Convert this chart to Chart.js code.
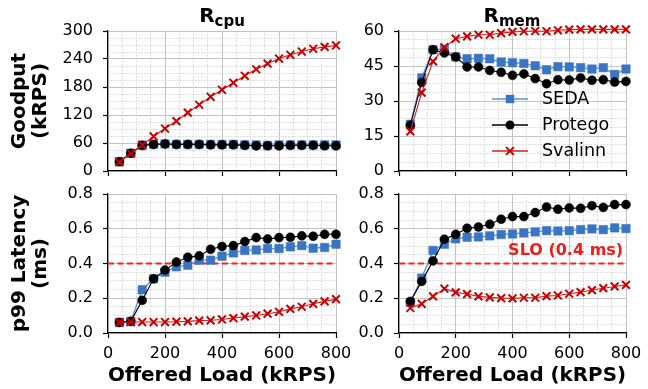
<!DOCTYPE html>
<html>
<head>
<meta charset="utf-8">
<script src="https://cdn.jsdelivr.net/npm/chart.js@4.4.1/dist/chart.umd.min.js"></script>
<style>
  html, body { margin: 0; padding: 0; background: #fff; }
  #wrap { position: relative; width: 648px; height: 389px; overflow: hidden; font-family: 'DejaVu Sans', sans-serif; }
  #wrap canvas { position: absolute; left: 0; top: 0; }
  .ptitle { position: absolute; width: 200px; text-align: center; font-weight: bold; font-size: 20px; line-height: 20px; color: #000; }
  .ptitle span { font-size: 15px; position: relative; top: 4px; }
</style>
</head>
<body>
<div id="wrap">
  <canvas id="cpuGood" width="648" height="389"></canvas>
  <canvas id="memGood" width="648" height="389"></canvas>
  <canvas id="cpuLat" width="648" height="389"></canvas>
  <canvas id="memLat" width="648" height="389"></canvas>
  <div class="ptitle" style="left:122px;top:5px">R<span>cpu</span></div>
  <div class="ptitle" style="left:412px;top:5px">R<span>mem</span></div>
</div>
<script>
// offered load (kRPS)
var loads = [40, 80, 120, 160, 200, 240, 280, 320, 360, 400, 440, 480, 520, 560, 600, 640, 680, 720, 760, 800];

// goodput (kRPS), R_cpu
var sedaCpuGood    = [20, 38, 55, 57, 58, 57, 57, 57, 57, 57, 57, 56, 56, 55, 56, 56, 56, 56, 56, 56];
var protegoCpuGood = [20, 38, 55, 57, 58, 57, 57, 57, 56, 56, 56, 55, 54, 54, 54, 55, 55, 55, 54, 54];
var svalinnCpuGood = [19, 38, 56, 74, 91, 107, 125, 142, 159, 174, 189, 204, 218, 230, 241, 249, 256, 262, 266, 269];

// goodput (kRPS), R_mem
var sedaMemGood    = [20, 39.9, 52, 52.1, 48.9, 48.1, 48.3, 48.1, 46.7, 46.4, 46.1, 45.1, 43.4, 44.7, 44.6, 44.3, 43.7, 44.3, 41.4, 43.7];
var protegoMemGood = [19.6, 37.9, 52, 50.6, 48.9, 44.6, 44.6, 43.1, 42.3, 41, 41.6, 39.6, 37.4, 39.1, 39, 39.9, 38.9, 39.1, 38.1, 38.4];
var svalinnMemGood = [17, 33.6, 47, 53.1, 56.7, 57.7, 58.4, 58.4, 59.1, 59.6, 59.9, 60, 59.9, 60.3, 60.6, 60.7, 60.7, 60.7, 60.7, 60.7];

// p99 latency (ms), R_cpu
var sedaCpuLat    = [0.061, 0.067, 0.249, 0.312, 0.350, 0.381, 0.390, 0.419, 0.419, 0.442, 0.461, 0.475, 0.478, 0.486, 0.486, 0.496, 0.503, 0.488, 0.492, 0.511];
var protegoCpuLat = [0.061, 0.067, 0.188, 0.312, 0.362, 0.408, 0.436, 0.444, 0.482, 0.498, 0.503, 0.526, 0.549, 0.541, 0.549, 0.551, 0.559, 0.557, 0.568, 0.568];
var svalinnCpuLat = [0.061, 0.063, 0.063, 0.063, 0.063, 0.065, 0.067, 0.071, 0.073, 0.078, 0.086, 0.094, 0.101, 0.111, 0.122, 0.139, 0.151, 0.168, 0.182, 0.195];

// p99 latency (ms), R_mem
var sedaMemLat    = [0.176, 0.316, 0.475, 0.511, 0.542, 0.551, 0.553, 0.559, 0.567, 0.570, 0.576, 0.582, 0.589, 0.587, 0.589, 0.595, 0.599, 0.595, 0.605, 0.601];
var protegoMemLat = [0.182, 0.297, 0.415, 0.540, 0.568, 0.603, 0.610, 0.626, 0.655, 0.670, 0.670, 0.693, 0.725, 0.712, 0.720, 0.718, 0.733, 0.723, 0.739, 0.739];
var svalinnMemLat = [0.144, 0.168, 0.211, 0.255, 0.234, 0.224, 0.211, 0.205, 0.201, 0.199, 0.203, 0.203, 0.212, 0.216, 0.226, 0.235, 0.247, 0.258, 0.268, 0.277];

var sloMs = 0.4;
var sloText = 'SLO (0.4 ms)';
var names = ['SEDA', 'Protego', 'Svalinn'];
var xTitle = 'Offered Load (kRPS)';

var FONT = 'DejaVu Sans';
var sedaLine = '#5b93d5', sedaMark = '#3a75c4';
var protLine = '#000000', protMark = '#000000';
var svalLine = '#d42020', svalMark = '#c80000';
var sloColor = '#ff2020';

function series(vals) {
  return loads.map(function (x, i) { return { x: x, y: vals[i] }; });
}
function isMajor(v, step) {
  var r = v / step;
  return Math.abs(r - Math.round(r)) < 1e-6;
}

function gridFor(step) {
  return {
    color: function (c) { return c.tick && isMajor(c.tick.value, step) ? '#c4c4c4' : '#d6d6d6'; },
    lineWidth: 1,
    tickLength: 5,
    tickWidth: 1.2,
    tickColor: function (c) { return c.tick && isMajor(c.tick.value, step) ? '#000' : 'rgba(0,0,0,0)'; }
  };
}
function borderFor(step) {
  return {
    color: '#000',
    width: 1.2,
    dash: function (c) { return c.tick && !isMajor(c.tick.value, step) ? [1.5, 1.5] : []; }
  };
}

var legendPlugin = {
  id: 'innerLegend',
  afterDatasetsDraw: function (chart) {
    var ctx = chart.ctx, a = chart.chartArea;
    var x0 = a.left + 93, x1 = a.left + 129, tx = a.left + 143, y0 = a.top + 68, gap = 26;
    ctx.save();
    ctx.font = '17.5px "' + FONT + '"';
    ctx.textBaseline = 'middle';
    ctx.textAlign = 'left';
    var lines = [sedaLine, protLine, svalLine];
    for (var i = 0; i < 3; i++) {
      var y = y0 + i * gap, mx = (x0 + x1) / 2;
      ctx.strokeStyle = lines[i];
      ctx.lineWidth = 1.3;
      ctx.beginPath(); ctx.moveTo(x0, y); ctx.lineTo(x1, y); ctx.stroke();
      if (i === 0) {
        ctx.fillStyle = sedaMark;
        ctx.fillRect(mx - 4.2, y - 4.2, 8.4, 8.4);
      } else if (i === 1) {
        ctx.fillStyle = protMark;
        ctx.beginPath(); ctx.arc(mx, y, 4.5, 0, Math.PI * 2); ctx.fill();
      } else {
        ctx.strokeStyle = svalMark;
        ctx.lineWidth = 2;
        ctx.beginPath();
        ctx.moveTo(mx - 3.9, y - 3.9); ctx.lineTo(mx + 3.9, y + 3.9);
        ctx.moveTo(mx - 3.9, y + 3.9); ctx.lineTo(mx + 3.9, y - 3.9);
        ctx.stroke();
      }
      ctx.fillStyle = '#000';
      ctx.fillText(names[i], tx, y);
    }
    ctx.restore();
  }
};

var sloPlugin = {
  id: 'sloLabel',
  afterDatasetsDraw: function (chart) {
    var ctx = chart.ctx;
    ctx.save();
    ctx.font = 'bold 16px "' + FONT + '"';
    ctx.fillStyle = '#ee1c1c';
    ctx.textAlign = 'right';
    ctx.textBaseline = 'middle';
    ctx.fillText(sloText, chart.scales.x.getPixelForValue(790), chart.scales.y.getPixelForValue(0.472));
    ctx.restore();
  }
};

function makeChart(id, o) {
  var datasets = [
    { label: names[0], data: series(o.sets[0]), borderColor: sedaLine, borderWidth: 1.3,
      pointStyle: 'rect', pointRadius: 6, pointBackgroundColor: sedaMark, pointBorderColor: sedaMark,
      pointBorderWidth: 0.5, order: 3, clip: false },
    { label: names[1], data: series(o.sets[1]), borderColor: protLine, borderWidth: 1.1,
      pointStyle: 'circle', pointRadius: 4.5, pointBackgroundColor: protMark, pointBorderColor: protMark,
      pointBorderWidth: 0.5, order: 2, clip: false },
    { label: names[2], data: series(o.sets[2]), borderColor: svalLine, borderWidth: 1.1,
      pointStyle: 'crossRot', pointRadius: 5.5, pointBorderColor: svalMark, pointBackgroundColor: svalMark,
      pointBorderWidth: 2, order: 1, clip: false }
  ];
  if (o.slo) {
    datasets.push({ label: 'SLO', data: [{ x: 0, y: sloMs }, { x: 800, y: sloMs }], borderColor: sloColor,
      borderWidth: 1.8, borderDash: [6, 3.5], pointRadius: 0, order: 4 });
  }
  var plugins = [];
  if (o.legend) plugins.push(legendPlugin);
  if (o.sloLabel) plugins.push(sloPlugin);

  return new Chart(document.getElementById(id), {
    type: 'line',
    data: { datasets: datasets },
    plugins: plugins,
    options: {
      responsive: false,
      animation: false,
      events: [],
      layout: { padding: o.padding },
      plugins: { legend: { display: false }, tooltip: { enabled: false } },
      scales: {
        x: {
          type: 'linear', min: 0, max: 800,
          ticks: {
            stepSize: 50, autoSkip: false, maxRotation: 0, padding: 6, color: '#000',
            font: { family: FONT, size: 16 },
            callback: function (v) { return o.xLabels && isMajor(v, 200) ? String(Math.round(v)) : ''; }
          },
          grid: gridFor(200),
          border: borderFor(200),
          title: {
            display: !!o.xLabels, text: xTitle, color: '#000', padding: 0,
            font: { family: FONT, size: 20, weight: 'bold', lineHeight: 1.05 }
          },
          afterFit: function (s) { s.height = o.xH; }
        },
        y: {
          type: 'linear', min: 0, max: o.yMax,
          ticks: {
            stepSize: o.yMinor, autoSkip: false, padding: 10, color: '#000',
            font: { family: FONT, size: 16 },
            callback: function (v) { return isMajor(v, o.yMajor) ? o.fmt(v) : ''; }
          },
          grid: gridFor(o.yMajor),
          border: borderFor(o.yMajor),
          title: {
            display: !!o.yTitle, text: o.yTitle || '', color: '#000', padding: 0,
            font: { family: FONT, size: 20, weight: 'bold', lineHeight: 1.05 }
          },
          afterFit: function (s) { s.width = o.yW; }
        }
      }
    }
  });
}

var intFmt = function (v) { return String(Math.round(v)); };
var msFmt = function (v) { return v.toFixed(1); };

makeChart('cpuGood', {
  sets: [sedaCpuGood, protegoCpuGood, svalinnCpuGood],
  yMax: 300, yMinor: 15, yMajor: 60, fmt: intFmt, yTitle: ['Goodput', '(kRPS)'],
  xLabels: false, xH: 6, yW: 98.5,
  padding: { left: 9.5, top: 31, right: 312, bottom: 212 }
});
makeChart('memGood', {
  sets: [sedaMemGood, protegoMemGood, svalinnMemGood],
  yMax: 60, yMinor: 3.75, yMajor: 15, fmt: intFmt, yTitle: null,
  xLabels: false, xH: 6, yW: 50, legend: true,
  padding: { left: 349, top: 31, right: 22, bottom: 212 }
});
makeChart('cpuLat', {
  sets: [sedaCpuLat, protegoCpuLat, svalinnCpuLat],
  yMax: 0.8, yMinor: 0.05, yMajor: 0.2, fmt: msFmt, yTitle: ['p99 Latency', '(ms)'],
  xLabels: true, xH: 53.5, yW: 98.5, slo: true,
  padding: { left: 9.5, top: 194, right: 312, bottom: 2.5 }
});
makeChart('memLat', {
  sets: [sedaMemLat, protegoMemLat, svalinnMemLat],
  yMax: 0.8, yMinor: 0.05, yMajor: 0.2, fmt: msFmt, yTitle: null,
  xLabels: true, xH: 53.5, yW: 50, slo: true, sloLabel: true,
  padding: { left: 349, top: 194, right: 22, bottom: 2.5 }
});
</script>
</body>
</html>
